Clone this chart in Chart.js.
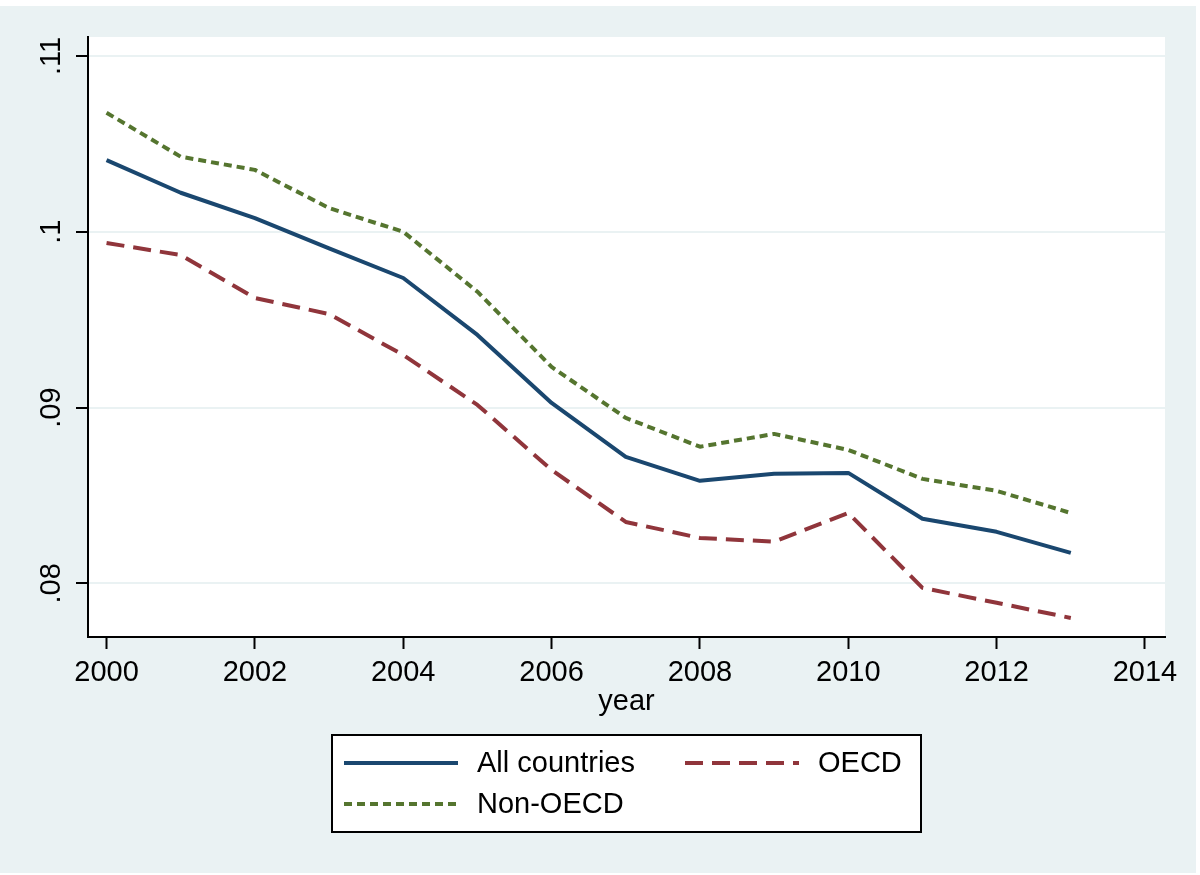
<!DOCTYPE html>
<html>
<head>
<meta charset="utf-8">
<script src="https://cdn.jsdelivr.net/npm/chart.js@4.4.1/dist/chart.umd.min.js"></script>
<style>
html, body { margin: 0; padding: 0; background: #ffffff; }
canvas { display: block; }
</style>
</head>
<body>
<canvas id="c" width="1200" height="875"></canvas>
<script>
// ---- data ----
const years = [2000, 2001, 2002, 2003, 2004, 2005, 2006, 2007, 2008, 2009, 2010, 2011, 2012, 2013];
const allCountries = [0.10408, 0.10222, 0.10078, 0.09905, 0.09737, 0.09413, 0.09026, 0.08719, 0.08583, 0.08623, 0.08628, 0.08367, 0.08293, 0.08173];
const oecd = [0.09936, 0.09868, 0.09623, 0.09532, 0.09299, 0.09015, 0.08645, 0.08349, 0.08258, 0.08237, 0.08400, 0.07974, 0.07889, 0.07803];
const nonOecd = [0.10677, 0.10427, 0.10352, 0.10135, 0.10000, 0.09659, 0.09231, 0.08941, 0.08777, 0.08850, 0.08759, 0.08594, 0.08526, 0.08400];
const seriesLabels = ['All countries', 'OECD', 'Non-OECD'];
const xTicks = [2000, 2002, 2004, 2006, 2008, 2010, 2012, 2014];
const yTicks = [0.08, 0.09, 0.10, 0.11];
const yTickLabels = ['.08', '.09', '.1', '.11'];
const xTitle = 'year';

// ---- style ----
const FONT = "'Liberation Sans', Arial, Helvetica, sans-serif";
const BG = '#EAF2F3';
const COLORS = ['#1A476F', '#90353B', '#55752F'];
const DASHES = [[], [18, 9], [8, 5]];

const bgPlugin = {
  id: 'bgPlugin',
  beforeDraw(chart) {
    const { ctx, chartArea: a } = chart;
    ctx.save();
    ctx.fillStyle = '#ffffff';
    ctx.fillRect(0, 0, chart.width, chart.height);
    ctx.fillStyle = BG;
    ctx.fillRect(0, 6, 1196, 867);
    ctx.fillStyle = '#ffffff';
    ctx.fillRect(a.left, a.top, a.right - a.left, a.bottom - a.top);
    ctx.restore();
  }
};

const legendPlugin = {
  id: 'stataLegend',
  afterDraw(chart) {
    const ctx = chart.ctx;
    ctx.save();
    ctx.fillStyle = '#ffffff';
    ctx.fillRect(332, 735, 589, 97);
    ctx.strokeStyle = '#000000';
    ctx.lineWidth = 2;
    ctx.strokeRect(332, 735, 589, 97);
    const slots = [{ x: 344, y: 763 }, { x: 685, y: 763 }, { x: 344, y: 804 }];
    chart.data.datasets.forEach((ds, i) => {
      const s = slots[i];
      ctx.beginPath();
      ctx.setLineDash(ds.borderDash || []);
      ctx.lineCap = 'butt';
      ctx.strokeStyle = ds.borderColor;
      ctx.lineWidth = ds.borderWidth;
      ctx.moveTo(s.x, s.y);
      ctx.lineTo(s.x + 114, s.y);
      ctx.stroke();
      ctx.setLineDash([]);
      ctx.fillStyle = '#000000';
      ctx.font = '29px ' + FONT;
      ctx.textBaseline = 'middle';
      ctx.textAlign = 'left';
      ctx.fillText(ds.label, s.x + 133, s.y + 1);
    });
    ctx.restore();
  }
};

const seriesValues = [allCountries, oecd, nonOecd];
const datasets = seriesValues.map((vals, k) => ({
  label: seriesLabels[k],
  data: years.map((yr, i) => ({ x: yr, y: vals[i] })),
  borderColor: COLORS[k],
  backgroundColor: COLORS[k],
  borderWidth: 4,
  borderDash: DASHES[k],
  borderJoinStyle: 'round',
  pointRadius: 0,
  pointHoverRadius: 0,
  tension: 0,
  fill: false
}));

new Chart(document.getElementById('c'), {
  type: 'line',
  data: { datasets },
  options: {
    responsive: false,
    animation: false,
    devicePixelRatio: 1,
    layout: { padding: { top: 37, left: 0, right: 35, bottom: 138 } },
    plugins: {
      legend: { display: false },
      tooltip: { enabled: false },
      title: { display: false }
    },
    scales: {
      x: {
        type: 'linear',
        min: 1999.75,
        max: 2014.27,
        afterBuildTicks: s => { s.ticks = xTicks.map(v => ({ value: v })); },
        afterFit: s => { s.height = 100; },
        ticks: {
          color: '#000000',
          font: { family: FONT, size: 29 },
          padding: 7,
          maxRotation: 0,
          minRotation: 0,
          autoSkip: false,
          callback: v => String(v)
        },
        grid: {
          display: true,
          drawOnChartArea: false,
          drawTicks: true,
          tickLength: 12,
          tickColor: '#000000',
          tickWidth: 2
        },
        border: { display: true, color: '#000000', width: 2 },
        title: {
          display: true,
          text: xTitle,
          color: '#000000',
          font: { family: FONT, size: 29 },
          padding: { top: 0, bottom: 18 }
        }
      },
      y: {
        type: 'linear',
        min: 0.076945,
        max: 0.111081,
        afterBuildTicks: s => { s.ticks = yTicks.map(v => ({ value: v })); },
        afterFit: s => { s.width = 88; },
        ticks: {
          color: '#000000',
          font: { family: FONT, size: 29 },
          padding: 4,
          minRotation: 90,
          maxRotation: 90,
          crossAlign: 'center',
          autoSkip: false,
          callback: v => {
            const idx = yTicks.findIndex(t => Math.abs(t - v) < 1e-9);
            return idx >= 0 ? yTickLabels[idx] : '';
          }
        },
        grid: {
          color: BG,
          lineWidth: 2,
          drawTicks: true,
          tickLength: 12,
          tickColor: '#000000',
          tickWidth: 2
        },
        border: { display: true, color: '#000000', width: 2 }
      }
    }
  },
  plugins: [bgPlugin, legendPlugin]
});
</script>
</body>
</html>
